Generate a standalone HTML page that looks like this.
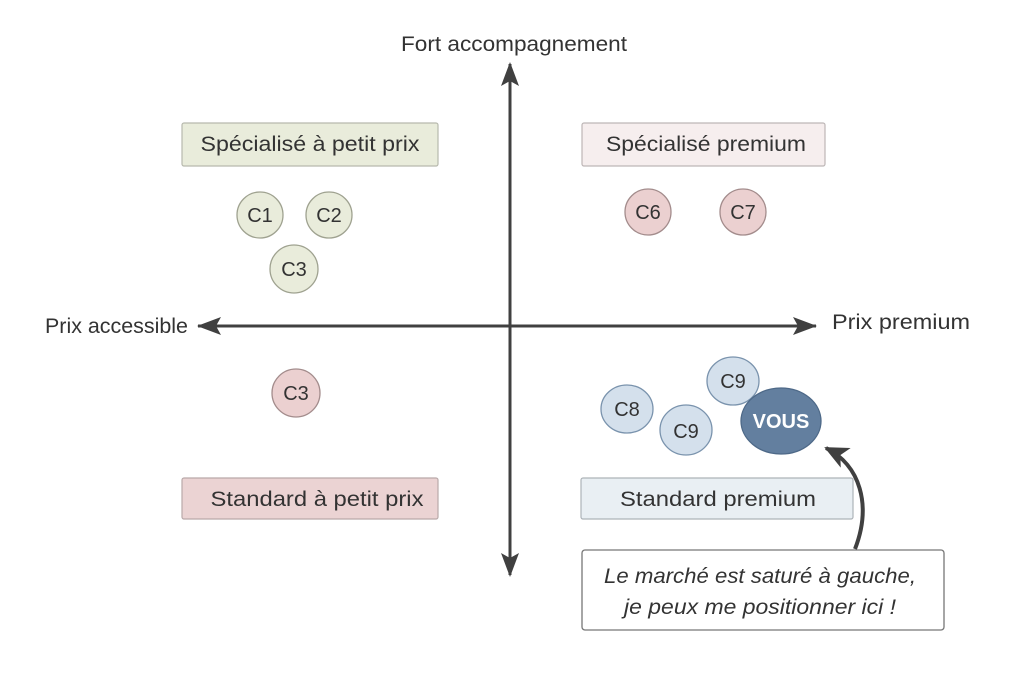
<!DOCTYPE html>
<html><head><meta charset="utf-8"><style>
html,body{margin:0;padding:0;background:#fff;}
svg{display:block;}
text{font-family:"Liberation Sans",sans-serif;fill:#333;}
</style></head><body>
<svg width="1024" height="683" viewBox="0 0 1024 683" xmlns="http://www.w3.org/2000/svg">
<defs>
<marker id="ah2" markerWidth="26" markerHeight="22" refX="22" refY="11" orient="auto" markerUnits="userSpaceOnUse">
<path d="M0,0 L24,11 L0,22 L6,11 Z" fill="#404040"/></marker>
</defs>
<line x1="510" y1="575" x2="510" y2="64" stroke="#404040" stroke-width="3"/>
<path d="M510,62 L501,86 L510,81 L519,86 Z" fill="#404040"/>
<path d="M510,577 L501,553 L510,558 L519,553 Z" fill="#404040"/>
<line x1="198" y1="326" x2="816" y2="326" stroke="#404040" stroke-width="3"/>
<path d="M197,326 L221,317 L216,326 L221,335 Z" fill="#404040"/>
<path d="M817,326 L793,317 L798,326 L793,335 Z" fill="#404040"/>
<text x="514" y="51" font-size="21" text-anchor="middle" textLength="226" lengthAdjust="spacingAndGlyphs">Fort accompagnement</text>
<text x="45" y="333" font-size="21" textLength="143" lengthAdjust="spacingAndGlyphs">Prix accessible</text>
<text x="832" y="329" font-size="21" textLength="138" lengthAdjust="spacingAndGlyphs">Prix premium</text>
<rect x="182" y="123" width="256" height="43" rx="2" fill="#e9ecdb" stroke="#b7b9ad" stroke-width="1.2"/>
<text x="310" y="151" font-size="21" text-anchor="middle" textLength="219" lengthAdjust="spacingAndGlyphs">Spécialisé à petit prix</text>
<rect x="582" y="123" width="243" height="43" rx="2" fill="#f6eeee" stroke="#bdb6b6" stroke-width="1.2"/>
<text x="706" y="151" font-size="21" text-anchor="middle" textLength="200" lengthAdjust="spacingAndGlyphs">Spécialisé premium</text>
<rect x="182" y="478" width="256" height="41" rx="2" fill="#ebd3d3" stroke="#b9a9a9" stroke-width="1.2"/>
<text x="317" y="506" font-size="21" text-anchor="middle" textLength="213" lengthAdjust="spacingAndGlyphs">Standard à petit prix</text>
<rect x="581" y="478" width="272" height="41" rx="2" fill="#e9eff3" stroke="#adb3b8" stroke-width="1.2"/>
<text x="718" y="506" font-size="21" text-anchor="middle" textLength="196" lengthAdjust="spacingAndGlyphs">Standard premium</text>
<g stroke-width="1.3">
<circle cx="260" cy="215" r="23" fill="#e9ecdb" stroke="#9fa290"/>
<circle cx="329" cy="215" r="23" fill="#e9ecdb" stroke="#9fa290"/>
<circle cx="294" cy="269" r="24" fill="#e9ecdb" stroke="#9fa290"/>
<circle cx="648" cy="212" r="23" fill="#ebd0d0" stroke="#a38c8c"/>
<circle cx="743" cy="212" r="23" fill="#ebd0d0" stroke="#a38c8c"/>
<circle cx="296" cy="393" r="24" fill="#ebd0d0" stroke="#a38c8c"/>
<ellipse cx="627" cy="409" rx="26" ry="24" fill="#d4e0ec" stroke="#7a93ad"/>
<ellipse cx="686" cy="430" rx="26" ry="25" fill="#d4e0ec" stroke="#7a93ad"/>
<ellipse cx="733" cy="381" rx="26" ry="24" fill="#d4e0ec" stroke="#7a93ad"/>
<ellipse cx="781" cy="421" rx="40" ry="33" fill="#637f9f" stroke="#4e6988"/>
</g>
<g font-size="20" text-anchor="middle">
<text x="260" y="222">C1</text><text x="329" y="222">C2</text><text x="294" y="276">C3</text>
<text x="648" y="219">C6</text><text x="743" y="219">C7</text><text x="296" y="400">C3</text>
<text x="627" y="416">C8</text><text x="686" y="438">C9</text><text x="733" y="388">C9</text>
<text x="781" y="428" font-weight="bold" style="fill:#fff" font-size="20">VOUS</text>
</g>
<path d="M855,549 C872,505 860,465 826,448" fill="none" stroke="#404040" stroke-width="4" marker-end="url(#ah2)"/>
<rect x="582" y="550" width="362" height="80" rx="3" fill="#fff" stroke="#777" stroke-width="1.3"/>
<g font-size="21" font-style="italic" text-anchor="middle">
<text x="760" y="583" textLength="312" lengthAdjust="spacingAndGlyphs">Le marché est saturé à gauche,</text>
<text x="760" y="614" textLength="272" lengthAdjust="spacingAndGlyphs">je peux me positionner ici !</text>
</g>
</svg>
</body></html>
